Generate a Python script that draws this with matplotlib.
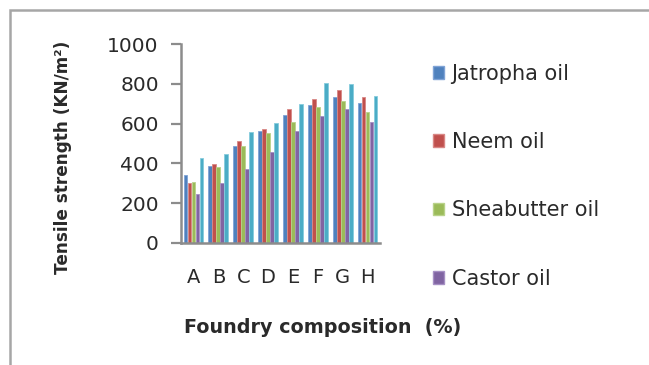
import matplotlib
matplotlib.use("Agg")
import matplotlib.pyplot as plt
from matplotlib.patches import Rectangle, Patch
import numpy as np

# Tensile strength (KN/m^2) per foundry composition
categories = ["A", "B", "C", "D", "E", "F", "G", "H"]
jatropha = [343, 385, 488, 564, 644, 694, 732, 706]
neem = [304, 398, 515, 574, 672, 722, 769, 736]
sheabutter = [309, 381, 485, 552, 610, 682, 714, 656]
castor = [246, 301, 371, 455, 564, 640, 672, 610]
fifth_oil = [426, 448, 557, 602, 699, 803, 799, 739]

series_names = ["Jatropha oil", "Neem oil", "Sheabutter oil", "Castor oil"]
y_ticks = [0, 200, 400, 600, 800, 1000]

colors = ["#4F81BD", "#C0504D", "#9BBB59", "#8064A2", "#4BACC6"]
edges = ["#7FA3D6", "#D98785", "#B9D28A", "#A690C4", "#86CCDD"]

plt.rcParams["font.family"] = ["DejaVu Sans"]
text_color = "#2A2A2A"

W, H = 649, 365
fig = plt.figure(figsize=(W / 100, H / 100), dpi=100)

# outer chart frame
fig.add_artist(Rectangle((10 / W, -0.1), 1.2, (H - 10) / H + 0.1,
                         transform=fig.transFigure, fill=False,
                         edgecolor="#A6A6A6", linewidth=1.8))

ax = fig.add_axes([181 / W, (H - 243) / H, 199 / W, 199 / H])

all_series = [jatropha, neem, sheabutter, castor, fifth_oil]
x = np.arange(len(categories))
n = len(all_series)
bw = 0.8 / n
for i, vals in enumerate(all_series):
    ax.bar(x - 0.4 + bw * (i + 0.5), vals, width=bw * 0.94,
           color=colors[i], edgecolor=edges[i], linewidth=0.6)

ax.set_xlim(-0.5, len(categories) - 0.5)
ax.set_ylim(0, 1000)
ax.set_yticks(y_ticks)
ax.set_yticklabels([str(v) for v in y_ticks], fontsize=14.5, color=text_color)
ax.set_xticks(x)
ax.set_xticklabels(categories, fontsize=14, color=text_color)
ax.tick_params(axis="x", length=0, pad=18)
ax.tick_params(axis="y", length=7, width=1.6, color="#8C8C8C", pad=9)

for s in ["top", "right"]:
    ax.spines[s].set_visible(False)
for s in ["left", "bottom"]:
    ax.spines[s].set_color("#8C8C8C")
    ax.spines[s].set_linewidth(1.8)

ax.set_ylabel("Tensile strength (KN/m²)", fontsize=12.2, fontweight="bold",
              color=text_color)
ax.yaxis.set_label_coords(-0.55, 0.43)
ax.set_xlabel("Foundry composition  (%)", fontsize=13.8, fontweight="bold",
              color=text_color)
ax.xaxis.set_label_coords(0.71, -0.375)

handles = [Patch(facecolor=colors[i], edgecolor=edges[i]) for i in range(4)]
leg = fig.legend(handles, series_names, loc="upper left",
                 bbox_to_anchor=(414 / W, 1 - 45 / H), frameon=False,
                 fontsize=15, handlelength=0.55, handleheight=0.55,
                 handletextpad=0.35, labelspacing=2.32)
for t in leg.get_texts():
    t.set_color(text_color)

fig.savefig("out.png", dpi=100)
